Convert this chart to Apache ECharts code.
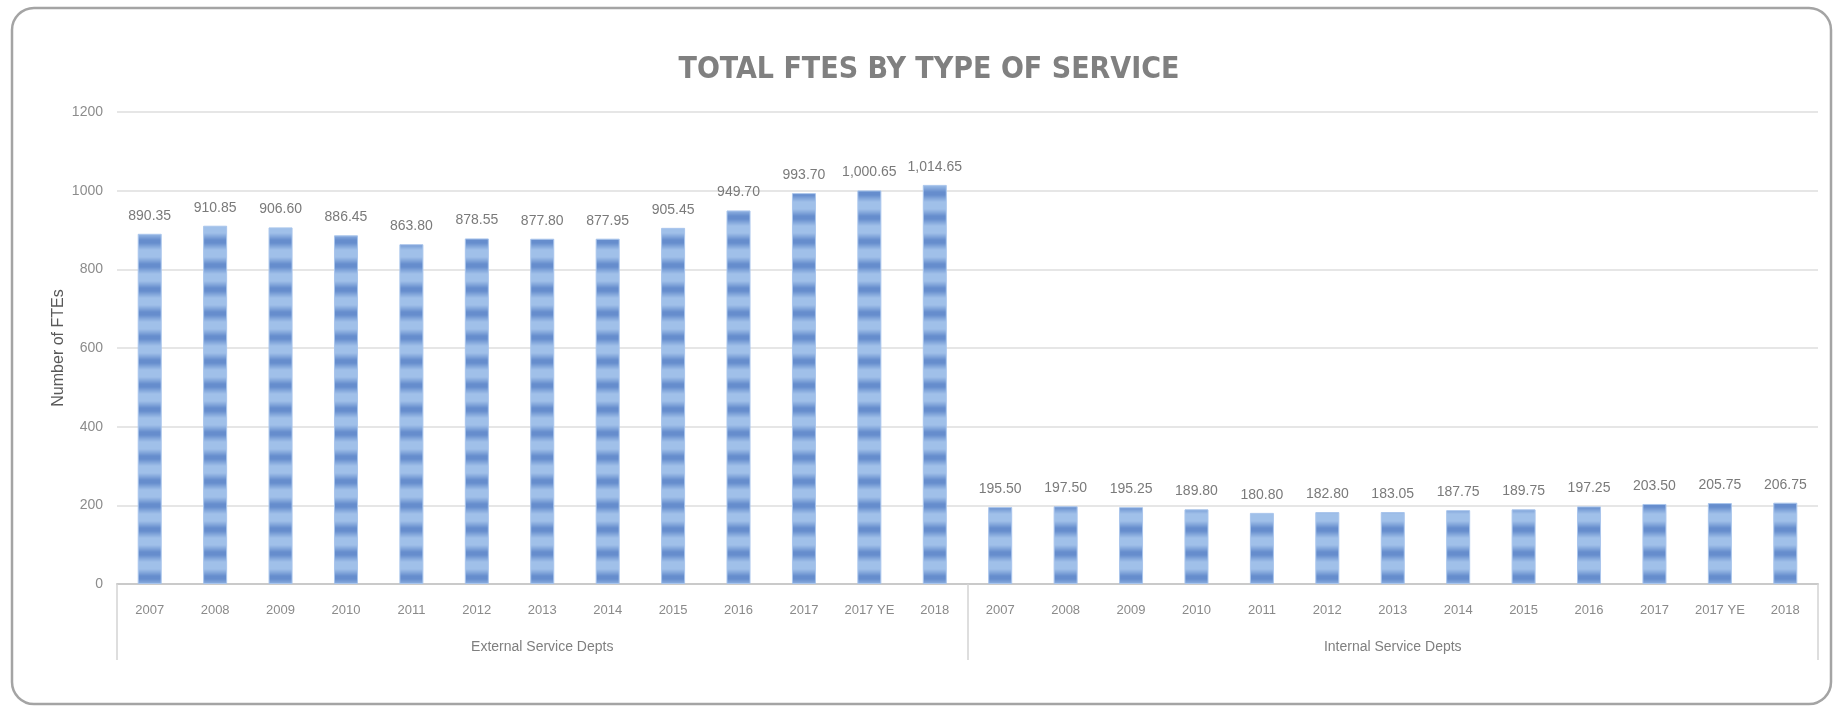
<!DOCTYPE html>
<html>
<head>
<meta charset="utf-8">
<title>Total FTEs by Type of Service</title>
<script src="https://cdn.jsdelivr.net/npm/echarts@6/dist/echarts.min.js"></script>
<style>
  html, body { margin: 0; padding: 0; background: #ffffff; }
  #chart { width: 1837px; height: 710px; }
</style>
</head>
<body>
<div id="chart"></div>
<script>
// Fiscal years shown under each service group
const years = ['2007', '2008', '2009', '2010', '2011', '2012', '2013', '2014', '2015', '2016', '2017', '2017 YE', '2018'];
// Service groups (second level of the category axis)
const groups = ['External Service Depts', 'Internal Service Depts'];
// Full-time equivalents per year
const externalFtes = [890.35, 910.85, 906.60, 886.45, 863.80, 878.55, 877.80, 877.95, 905.45, 949.70, 993.70, 1000.65, 1014.65];
const internalFtes = [195.50, 197.50, 195.25, 189.80, 180.80, 182.80, 183.05, 187.75, 189.75, 197.25, 203.50, 205.75, 206.75];
// Value axis ticks
const yTicks = [0, 200, 400, 600, 800, 1000, 1200];

const categories = years.concat(years);
const values = externalFtes.concat(internalFtes);

// Soft horizontal banded fill for the columns
function stripePattern() {
  const c = document.createElement('canvas');
  const period = 24;
  c.width = 4;
  c.height = period;
  const g = c.getContext('2d');
  const dark = [102, 141, 205];
  const light = [160, 192, 233];
  for (let r = 0; r < period; r++) {
    const d = Math.abs(r - 1);
    const dist = Math.min(d, period - d);
    const t = Math.max(0, Math.min(1, (dist - 1.5) / 7));
    const col = dark.map((v, i) => Math.round(v + (light[i] - v) * t));
    g.fillStyle = 'rgb(' + col.join(',') + ')';
    g.fillRect(0, r, c.width, 1);
  }
  return c;
}

const fmt = v => Number(v).toLocaleString('en-US', { minimumFractionDigits: 2, maximumFractionDigits: 2 });

const chart = echarts.init(document.getElementById('chart'), null, { renderer: 'canvas' });

chart.setOption({
  backgroundColor: '#ffffff',
  animation: false,
  title: {
    text: 'TOTAL FTES BY TYPE OF SERVICE',
    left: 924,
    top: 50,
    textAlign: 'center',
    textStyle: {
      fontFamily: "'DejaVu Sans Condensed', 'Liberation Sans', sans-serif",
      fontWeight: 'bold',
      fontSize: 30,
      color: '#808080'
    }
  },
  graphic: [{
    type: 'rect',
    silent: true,
    z: -10,
    shape: { x: 12, y: 8, width: 1819, height: 696, r: 22 },
    style: { fill: 'none', stroke: '#a4a4a4', lineWidth: 2.5 }
  }],
  grid: { left: 117, right: 19, top: 112, bottom: 126, containLabel: false },
  xAxis: [{
    type: 'category',
    data: categories,
    position: 'bottom',
    axisLine: { show: true, lineStyle: { color: '#cacaca', width: 2 } },
    axisTick: { show: false },
    axisLabel: {
      interval: 0,
      margin: 20,
      fontFamily: "'Liberation Sans', Arial, sans-serif",
      fontSize: 13,
      color: '#8a8a8a'
    },
    splitLine: { show: false }
  }, {
    type: 'category',
    data: groups,
    position: 'bottom',
    offset: 0,
    axisLine: { show: false },
    axisTick: {
      show: true,
      interval: 0,
      alignWithLabel: false,
      length: 76,
      lineStyle: { color: '#d3d3d3', width: 1.5 }
    },
    axisLabel: {
      interval: 0,
      margin: 56,
      fontFamily: "'Liberation Sans', Arial, sans-serif",
      fontSize: 14,
      color: '#7f7f7f'
    }
  }],
  yAxis: {
    type: 'value',
    min: yTicks[0],
    max: yTicks[yTicks.length - 1],
    interval: yTicks[1] - yTicks[0],
    name: 'Number of FTEs',
    nameLocation: 'middle',
    nameRotate: 90,
    nameGap: 50,
    nameMoveOverlap: false,
    nameTextStyle: {
      fontFamily: "'Liberation Sans', Arial, sans-serif",
      fontSize: 16,
      color: '#595959'
    },
    axisLine: { show: false },
    axisTick: { show: false },
    axisLabel: {
      margin: 14,
      formatter: v => String(v),
      fontFamily: "'Liberation Sans', Arial, sans-serif",
      fontSize: 14,
      color: '#8c8c8c'
    },
    splitLine: { show: true, lineStyle: { color: '#dedede', width: 1.5 } }
  },
  series: [{
    type: 'bar',
    xAxisIndex: 0,
    data: values,
    barWidth: 24,
    itemStyle: {
      color: { image: stripePattern(), repeat: 'repeat' },
      borderColor: '#a9c5ec',
      borderWidth: 1
    },
    label: {
      show: true,
      position: 'top',
      distance: 11,
      formatter: p => fmt(p.value),
      fontFamily: "'Liberation Sans', Arial, sans-serif",
      fontSize: 14,
      color: '#7a7a7a'
    }
  }]
});
</script>
</body>
</html>
